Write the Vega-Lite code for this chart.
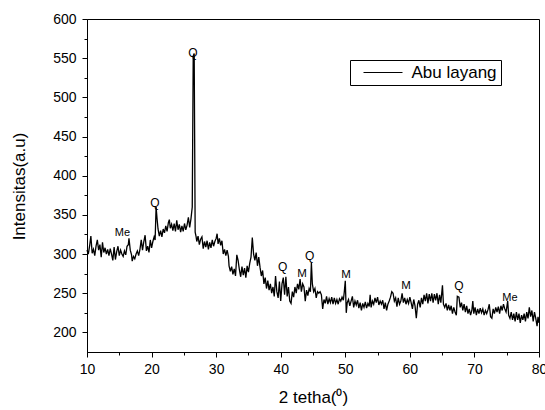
{
  "$schema": "https://vega.github.io/schema/vega-lite/v6.json",
  "autosize": {"type": "none"},
  "padding": {"left": 87, "top": 19, "right": 6, "bottom": 58},
  "width": 452,
  "height": 333,
  "background": "white",
  "config": {
    "font": "Liberation Sans",
    "view": {"stroke": "black", "strokeWidth": 1},
    "axis": {
      "grid": false,
      "domainColor": "black",
      "tickColor": "black",
      "labelColor": "black",
      "titleColor": "black",
      "labelFont": "Liberation Sans",
      "titleFont": "Liberation Sans",
      "labelFontSize": 14,
      "titleFontSize": 17,
      "titleFontWeight": "normal"
    }
  },
  "datasets": {
    "xrd": [
      {"angle": 10.0, "intensity": 305}, {"angle": 10.2, "intensity": 300}, {"angle": 10.4, "intensity": 310}, {"angle": 10.6, "intensity": 323},
      {"angle": 10.8, "intensity": 301}, {"angle": 11.0, "intensity": 306}, {"angle": 11.2, "intensity": 298}, {"angle": 11.4, "intensity": 310},
      {"angle": 11.6, "intensity": 318}, {"angle": 11.8, "intensity": 305}, {"angle": 12.0, "intensity": 312}, {"angle": 12.2, "intensity": 296},
      {"angle": 12.4, "intensity": 315}, {"angle": 12.6, "intensity": 302}, {"angle": 12.8, "intensity": 308}, {"angle": 13.0, "intensity": 300},
      {"angle": 13.2, "intensity": 306}, {"angle": 13.4, "intensity": 298}, {"angle": 13.6, "intensity": 307}, {"angle": 13.8, "intensity": 300},
      {"angle": 14.0, "intensity": 292}, {"angle": 14.2, "intensity": 309}, {"angle": 14.4, "intensity": 293}, {"angle": 14.6, "intensity": 303},
      {"angle": 14.8, "intensity": 310}, {"angle": 15.0, "intensity": 298}, {"angle": 15.2, "intensity": 305}, {"angle": 15.4, "intensity": 300},
      {"angle": 15.6, "intensity": 297}, {"angle": 15.8, "intensity": 304}, {"angle": 16.0, "intensity": 299}, {"angle": 16.2, "intensity": 310},
      {"angle": 16.4, "intensity": 312}, {"angle": 16.5, "intensity": 320}, {"angle": 16.7, "intensity": 305}, {"angle": 16.9, "intensity": 299},
      {"angle": 17.0, "intensity": 291}, {"angle": 17.2, "intensity": 297}, {"angle": 17.4, "intensity": 294}, {"angle": 17.6, "intensity": 300},
      {"angle": 17.8, "intensity": 304}, {"angle": 18.0, "intensity": 298}, {"angle": 18.2, "intensity": 306}, {"angle": 18.4, "intensity": 318},
      {"angle": 18.6, "intensity": 305}, {"angle": 18.8, "intensity": 316}, {"angle": 19.0, "intensity": 324}, {"angle": 19.2, "intensity": 304},
      {"angle": 19.4, "intensity": 310}, {"angle": 19.6, "intensity": 302}, {"angle": 19.8, "intensity": 318}, {"angle": 20.0, "intensity": 308},
      {"angle": 20.2, "intensity": 316}, {"angle": 20.4, "intensity": 322}, {"angle": 20.55, "intensity": 318}, {"angle": 20.7, "intensity": 360},
      {"angle": 20.85, "intensity": 345}, {"angle": 21.0, "intensity": 332}, {"angle": 21.2, "intensity": 323}, {"angle": 21.4, "intensity": 330},
      {"angle": 21.6, "intensity": 322}, {"angle": 21.8, "intensity": 332}, {"angle": 22.0, "intensity": 327}, {"angle": 22.2, "intensity": 336},
      {"angle": 22.4, "intensity": 329}, {"angle": 22.6, "intensity": 340}, {"angle": 22.75, "intensity": 344}, {"angle": 22.9, "intensity": 333},
      {"angle": 23.1, "intensity": 338}, {"angle": 23.3, "intensity": 330}, {"angle": 23.5, "intensity": 339}, {"angle": 23.7, "intensity": 329},
      {"angle": 23.9, "intensity": 343}, {"angle": 24.1, "intensity": 331}, {"angle": 24.3, "intensity": 338}, {"angle": 24.5, "intensity": 328},
      {"angle": 24.7, "intensity": 336}, {"angle": 24.9, "intensity": 329}, {"angle": 25.1, "intensity": 339}, {"angle": 25.3, "intensity": 331},
      {"angle": 25.5, "intensity": 337}, {"angle": 25.7, "intensity": 347}, {"angle": 25.9, "intensity": 334}, {"angle": 26.1, "intensity": 345},
      {"angle": 26.3, "intensity": 360}, {"angle": 26.45, "intensity": 553}, {"angle": 26.6, "intensity": 556}, {"angle": 26.75, "intensity": 328},
      {"angle": 26.9, "intensity": 322}, {"angle": 27.0, "intensity": 316}, {"angle": 27.2, "intensity": 323}, {"angle": 27.4, "intensity": 312},
      {"angle": 27.6, "intensity": 319}, {"angle": 27.8, "intensity": 322}, {"angle": 28.0, "intensity": 307}, {"angle": 28.2, "intensity": 316},
      {"angle": 28.4, "intensity": 309}, {"angle": 28.6, "intensity": 317}, {"angle": 28.8, "intensity": 306}, {"angle": 29.0, "intensity": 315},
      {"angle": 29.2, "intensity": 308}, {"angle": 29.4, "intensity": 318}, {"angle": 29.6, "intensity": 310}, {"angle": 29.8, "intensity": 316},
      {"angle": 30.0, "intensity": 320}, {"angle": 30.15, "intensity": 326}, {"angle": 30.3, "intensity": 313}, {"angle": 30.5, "intensity": 320},
      {"angle": 30.7, "intensity": 311}, {"angle": 30.9, "intensity": 317}, {"angle": 31.1, "intensity": 300}, {"angle": 31.3, "intensity": 306},
      {"angle": 31.5, "intensity": 298}, {"angle": 31.7, "intensity": 305}, {"angle": 31.9, "intensity": 297}, {"angle": 32.0, "intensity": 285},
      {"angle": 32.2, "intensity": 278}, {"angle": 32.4, "intensity": 284}, {"angle": 32.6, "intensity": 274}, {"angle": 32.8, "intensity": 281},
      {"angle": 33.0, "intensity": 272}, {"angle": 33.2, "intensity": 299}, {"angle": 33.4, "intensity": 292}, {"angle": 33.6, "intensity": 280},
      {"angle": 33.8, "intensity": 271}, {"angle": 34.0, "intensity": 284}, {"angle": 34.2, "intensity": 273}, {"angle": 34.4, "intensity": 282},
      {"angle": 34.6, "intensity": 270}, {"angle": 34.8, "intensity": 285}, {"angle": 35.0, "intensity": 277}, {"angle": 35.2, "intensity": 288},
      {"angle": 35.4, "intensity": 296}, {"angle": 35.6, "intensity": 321}, {"angle": 35.8, "intensity": 300}, {"angle": 36.0, "intensity": 292},
      {"angle": 36.2, "intensity": 302}, {"angle": 36.4, "intensity": 285}, {"angle": 36.6, "intensity": 296}, {"angle": 36.8, "intensity": 283},
      {"angle": 37.0, "intensity": 272}, {"angle": 37.2, "intensity": 279}, {"angle": 37.4, "intensity": 262}, {"angle": 37.6, "intensity": 270},
      {"angle": 37.8, "intensity": 256}, {"angle": 38.0, "intensity": 266}, {"angle": 38.2, "intensity": 254}, {"angle": 38.4, "intensity": 262},
      {"angle": 38.6, "intensity": 250}, {"angle": 38.8, "intensity": 258}, {"angle": 39.0, "intensity": 246}, {"angle": 39.2, "intensity": 272},
      {"angle": 39.4, "intensity": 252}, {"angle": 39.6, "intensity": 244}, {"angle": 39.8, "intensity": 265}, {"angle": 40.0, "intensity": 240},
      {"angle": 40.2, "intensity": 262}, {"angle": 40.4, "intensity": 270}, {"angle": 40.6, "intensity": 248}, {"angle": 40.8, "intensity": 271},
      {"angle": 41.0, "intensity": 246}, {"angle": 41.2, "intensity": 258}, {"angle": 41.4, "intensity": 240}, {"angle": 41.6, "intensity": 237},
      {"angle": 41.8, "intensity": 252}, {"angle": 42.0, "intensity": 245}, {"angle": 42.2, "intensity": 258}, {"angle": 42.4, "intensity": 250},
      {"angle": 42.6, "intensity": 262}, {"angle": 42.8, "intensity": 255}, {"angle": 43.0, "intensity": 268}, {"angle": 43.2, "intensity": 252},
      {"angle": 43.4, "intensity": 262}, {"angle": 43.6, "intensity": 258}, {"angle": 43.8, "intensity": 240}, {"angle": 44.0, "intensity": 254},
      {"angle": 44.2, "intensity": 247}, {"angle": 44.4, "intensity": 256}, {"angle": 44.6, "intensity": 252}, {"angle": 44.75, "intensity": 289},
      {"angle": 44.9, "intensity": 262}, {"angle": 45.1, "intensity": 252}, {"angle": 45.3, "intensity": 256}, {"angle": 45.5, "intensity": 244},
      {"angle": 45.7, "intensity": 252}, {"angle": 45.9, "intensity": 250}, {"angle": 46.1, "intensity": 252}, {"angle": 46.3, "intensity": 248},
      {"angle": 46.5, "intensity": 230}, {"angle": 46.7, "intensity": 242}, {"angle": 46.9, "intensity": 237}, {"angle": 47.1, "intensity": 246},
      {"angle": 47.3, "intensity": 236}, {"angle": 47.5, "intensity": 243}, {"angle": 47.7, "intensity": 238}, {"angle": 47.9, "intensity": 245},
      {"angle": 48.1, "intensity": 236}, {"angle": 48.3, "intensity": 244}, {"angle": 48.5, "intensity": 237}, {"angle": 48.7, "intensity": 242},
      {"angle": 48.9, "intensity": 236}, {"angle": 49.1, "intensity": 243}, {"angle": 49.3, "intensity": 240}, {"angle": 49.5, "intensity": 245},
      {"angle": 49.7, "intensity": 241}, {"angle": 49.85, "intensity": 252}, {"angle": 50.0, "intensity": 266}, {"angle": 50.15, "intensity": 225},
      {"angle": 50.3, "intensity": 238}, {"angle": 50.5, "intensity": 242}, {"angle": 50.7, "intensity": 234}, {"angle": 50.9, "intensity": 240},
      {"angle": 51.1, "intensity": 246}, {"angle": 51.3, "intensity": 232}, {"angle": 51.5, "intensity": 240}, {"angle": 51.7, "intensity": 235},
      {"angle": 51.9, "intensity": 241}, {"angle": 52.1, "intensity": 231}, {"angle": 52.3, "intensity": 238}, {"angle": 52.5, "intensity": 228},
      {"angle": 52.7, "intensity": 237}, {"angle": 52.9, "intensity": 232}, {"angle": 53.1, "intensity": 239}, {"angle": 53.3, "intensity": 231},
      {"angle": 53.5, "intensity": 237}, {"angle": 53.7, "intensity": 233}, {"angle": 53.85, "intensity": 248}, {"angle": 54.0, "intensity": 232},
      {"angle": 54.2, "intensity": 240}, {"angle": 54.4, "intensity": 236}, {"angle": 54.6, "intensity": 244}, {"angle": 54.8, "intensity": 238},
      {"angle": 55.0, "intensity": 245}, {"angle": 55.2, "intensity": 235}, {"angle": 55.4, "intensity": 240}, {"angle": 55.6, "intensity": 236},
      {"angle": 55.8, "intensity": 241}, {"angle": 56.0, "intensity": 230}, {"angle": 56.2, "intensity": 238}, {"angle": 56.4, "intensity": 228},
      {"angle": 56.6, "intensity": 236}, {"angle": 56.8, "intensity": 240}, {"angle": 57.0, "intensity": 245}, {"angle": 57.2, "intensity": 252},
      {"angle": 57.4, "intensity": 250}, {"angle": 57.6, "intensity": 240}, {"angle": 57.8, "intensity": 244}, {"angle": 58.0, "intensity": 233},
      {"angle": 58.2, "intensity": 244}, {"angle": 58.4, "intensity": 236}, {"angle": 58.6, "intensity": 240}, {"angle": 58.8, "intensity": 250},
      {"angle": 59.0, "intensity": 238}, {"angle": 59.2, "intensity": 244}, {"angle": 59.4, "intensity": 236}, {"angle": 59.6, "intensity": 242},
      {"angle": 59.8, "intensity": 237}, {"angle": 60.0, "intensity": 245}, {"angle": 60.2, "intensity": 238}, {"angle": 60.4, "intensity": 230},
      {"angle": 60.6, "intensity": 242}, {"angle": 60.8, "intensity": 234}, {"angle": 61.0, "intensity": 218}, {"angle": 61.2, "intensity": 236},
      {"angle": 61.4, "intensity": 241}, {"angle": 61.6, "intensity": 232}, {"angle": 61.8, "intensity": 244}, {"angle": 62.0, "intensity": 236},
      {"angle": 62.2, "intensity": 248}, {"angle": 62.4, "intensity": 240}, {"angle": 62.6, "intensity": 250}, {"angle": 62.8, "intensity": 237},
      {"angle": 63.0, "intensity": 249}, {"angle": 63.2, "intensity": 240}, {"angle": 63.4, "intensity": 250}, {"angle": 63.6, "intensity": 238},
      {"angle": 63.8, "intensity": 249}, {"angle": 64.0, "intensity": 241}, {"angle": 64.2, "intensity": 250}, {"angle": 64.4, "intensity": 236},
      {"angle": 64.6, "intensity": 248}, {"angle": 64.8, "intensity": 238}, {"angle": 65.05, "intensity": 260}, {"angle": 65.2, "intensity": 236},
      {"angle": 65.4, "intensity": 232}, {"angle": 65.6, "intensity": 237}, {"angle": 65.8, "intensity": 228}, {"angle": 66.0, "intensity": 235},
      {"angle": 66.2, "intensity": 228}, {"angle": 66.4, "intensity": 234}, {"angle": 66.6, "intensity": 224}, {"angle": 66.8, "intensity": 232},
      {"angle": 67.0, "intensity": 226}, {"angle": 67.2, "intensity": 222}, {"angle": 67.35, "intensity": 246}, {"angle": 67.6, "intensity": 245},
      {"angle": 67.8, "intensity": 232}, {"angle": 68.0, "intensity": 238}, {"angle": 68.2, "intensity": 228}, {"angle": 68.4, "intensity": 236},
      {"angle": 68.6, "intensity": 226}, {"angle": 68.8, "intensity": 234}, {"angle": 69.0, "intensity": 224}, {"angle": 69.2, "intensity": 230},
      {"angle": 69.4, "intensity": 222}, {"angle": 69.6, "intensity": 228}, {"angle": 69.75, "intensity": 240}, {"angle": 69.9, "intensity": 224},
      {"angle": 70.1, "intensity": 232}, {"angle": 70.3, "intensity": 222}, {"angle": 70.5, "intensity": 230}, {"angle": 70.7, "intensity": 224},
      {"angle": 70.9, "intensity": 231}, {"angle": 71.1, "intensity": 225}, {"angle": 71.3, "intensity": 230}, {"angle": 71.5, "intensity": 222},
      {"angle": 71.7, "intensity": 228}, {"angle": 71.9, "intensity": 224}, {"angle": 72.1, "intensity": 229}, {"angle": 72.3, "intensity": 236},
      {"angle": 72.5, "intensity": 220}, {"angle": 72.7, "intensity": 218}, {"angle": 72.9, "intensity": 230}, {"angle": 73.1, "intensity": 224},
      {"angle": 73.3, "intensity": 232}, {"angle": 73.5, "intensity": 226}, {"angle": 73.7, "intensity": 233}, {"angle": 73.9, "intensity": 224},
      {"angle": 74.1, "intensity": 234}, {"angle": 74.3, "intensity": 228}, {"angle": 74.5, "intensity": 236}, {"angle": 74.7, "intensity": 230},
      {"angle": 74.9, "intensity": 226}, {"angle": 75.15, "intensity": 240}, {"angle": 75.3, "intensity": 222}, {"angle": 75.5, "intensity": 218},
      {"angle": 75.7, "intensity": 226}, {"angle": 75.9, "intensity": 216}, {"angle": 76.1, "intensity": 224}, {"angle": 76.3, "intensity": 214},
      {"angle": 76.5, "intensity": 226}, {"angle": 76.7, "intensity": 216}, {"angle": 76.9, "intensity": 224}, {"angle": 77.1, "intensity": 212},
      {"angle": 77.3, "intensity": 222}, {"angle": 77.5, "intensity": 216}, {"angle": 77.7, "intensity": 224}, {"angle": 77.9, "intensity": 214},
      {"angle": 78.1, "intensity": 226}, {"angle": 78.3, "intensity": 218}, {"angle": 78.5, "intensity": 232}, {"angle": 78.7, "intensity": 220},
      {"angle": 78.9, "intensity": 228}, {"angle": 79.1, "intensity": 214}, {"angle": 79.3, "intensity": 226}, {"angle": 79.5, "intensity": 218},
      {"angle": 79.7, "intensity": 208}, {"angle": 79.85, "intensity": 220}, {"angle": 80.0, "intensity": 212}
    ],
    "peaks": [
      {"phase": "Me", "angle": 15.5, "intensity": 327},
      {"phase": "Q", "angle": 20.5, "intensity": 365},
      {"phase": "Q", "angle": 26.4, "intensity": 556},
      {"phase": "Q", "angle": 40.3, "intensity": 283},
      {"phase": "M", "angle": 43.3, "intensity": 274},
      {"phase": "Q", "angle": 44.5, "intensity": 298},
      {"phase": "M", "angle": 50.1, "intensity": 273},
      {"phase": "M", "angle": 59.4, "intensity": 259},
      {"phase": "Q", "angle": 67.6, "intensity": 259},
      {"phase": "Me", "angle": 75.5, "intensity": 244}
    ]
  },
  "encoding": {
    "x": {
      "field": "angle",
      "type": "quantitative",
      "scale": {"domain": [10, 80], "nice": false, "zero": false},
      "axis": {
        "title": "2 tetha(⁰)",
        "values": [10, 15, 20, 25, 30, 35, 40, 45, 50, 55, 60, 65, 70, 75, 80],
        "labelExpr": "datum.value % 10 === 0 ? datum.label : ''",
        "tickSize": {"condition": {"test": "datum.value % 10 !== 0", "value": 3}, "value": 5},
        "labelPadding": 5,
        "labelFlush": false,
        "titleY": 45,
        "titleBaseline": "middle"
      }
    },
    "y": {
      "field": "intensity",
      "type": "quantitative",
      "scale": {"domain": [175, 600], "nice": false, "zero": false},
      "axis": {
        "title": "Intensitas(a.u)",
        "values": [200, 225, 250, 275, 300, 325, 350, 375, 400, 425, 450, 475, 500, 525, 550, 575, 600],
        "labelExpr": "datum.value % 50 === 0 ? datum.label : ''",
        "tickSize": {"condition": {"test": "datum.value % 50 !== 0", "value": 3}, "value": 5},
        "labelPadding": 6,
        "labelFlush": false,
        "titleX": -68,
        "titleY": 167,
        "titleAngle": 270,
        "titleAlign": "center",
        "titleBaseline": "middle"
      }
    }
  },
  "layer": [
    {
      "data": {"name": "xrd"},
      "mark": {"type": "line", "strokeWidth": 1.3, "interpolate": "linear"},
      "encoding": {
        "stroke": {
          "datum": "Abu layang",
          "type": "nominal",
          "scale": {"range": ["black"]},
          "legend": {
            "title": null,
            "orient": "none",
            "legendX": 263,
            "legendY": 41,
            "symbolType": "M-3,0L3,0",
            "symbolSize": 169,
            "symbolStrokeWidth": 1,
            "symbolOffset": 20.5,
            "labelOffset": 20,
            "labelFontSize": 17,
            "labelFont": "Liberation Sans",
            "labelColor": "black",
            "strokeColor": "black",
            "fillColor": "white",
            "padding": 4
          }
        }
      }
    },
    {
      "data": {"name": "peaks"},
      "mark": {"type": "text", "baseline": "middle", "align": "center", "color": "black", "font": "Liberation Sans"},
      "encoding": {
        "text": {"field": "phase"},
        "size": {
          "field": "phase",
          "type": "nominal",
          "scale": {"domain": ["Q", "M", "Me"], "range": [12, 11, 11]},
          "legend": null
        }
      }
    }
  ]
}
